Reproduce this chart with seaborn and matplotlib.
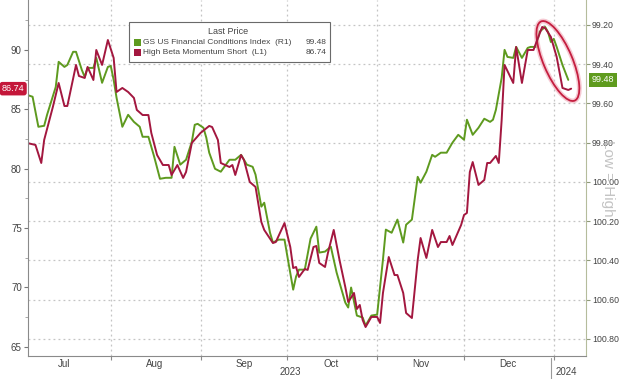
import matplotlib
matplotlib.use("Agg")
import matplotlib.pyplot as plt
import matplotlib.dates as mdates
import matplotlib.patches as mpatches
import matplotlib.transforms as mtransforms
from matplotlib.lines import Line2D
import seaborn as sns
import pandas as pd
import numpy as np

# ---------------- data ----------------
red_dates = [
    "2023-07-03", "2023-07-06", "2023-07-08", "2023-07-09", "2023-07-12", "2023-07-14", "2023-07-16", "2023-07-17",
    "2023-07-20", "2023-07-21", "2023-07-23", "2023-07-24", "2023-07-26", "2023-07-27", "2023-07-29", "2023-07-31",
    "2023-08-02", "2023-08-03", "2023-08-05", "2023-08-07", "2023-08-09", "2023-08-10", "2023-08-12", "2023-08-14",
    "2023-08-15", "2023-08-17", "2023-08-19", "2023-08-21", "2023-08-22", "2023-08-24", "2023-08-26", "2023-08-27",
    "2023-08-29", "2023-09-01", "2023-09-04", "2023-09-05", "2023-09-07", "2023-09-08", "2023-09-11", "2023-09-12",
    "2023-09-13", "2023-09-15", "2023-09-16", "2023-09-18", "2023-09-20", "2023-09-22", "2023-09-23", "2023-09-26",
    "2023-09-27", "2023-09-30", "2023-10-02", "2023-10-03", "2023-10-04", "2023-10-05", "2023-10-07", "2023-10-08",
    "2023-10-10", "2023-10-11", "2023-10-12", "2023-10-14", "2023-10-15", "2023-10-17", "2023-10-19", "2023-10-21",
    "2023-10-22", "2023-10-24", "2023-10-25", "2023-10-26", "2023-10-27", "2023-10-28", "2023-10-30", "2023-11-01",
    "2023-11-02", "2023-11-03", "2023-11-05", "2023-11-07", "2023-11-08", "2023-11-10", "2023-11-11", "2023-11-13",
    "2023-11-15", "2023-11-16", "2023-11-18", "2023-11-20", "2023-11-22", "2023-11-23", "2023-11-25", "2023-11-26",
    "2023-11-27", "2023-11-30", "2023-12-01", "2023-12-02", "2023-12-03", "2023-12-04", "2023-12-06", "2023-12-08",
    "2023-12-09", "2023-12-10", "2023-12-12", "2023-12-13", "2023-12-14", "2023-12-15", "2023-12-18", "2023-12-19",
    "2023-12-21", "2023-12-23", "2023-12-25", "2023-12-26", "2023-12-28", "2023-12-29", "2023-12-31", "2024-01-01",
    "2024-01-02", "2024-01-04", "2024-01-06", "2024-01-07",
]
red_values = [
    82.17, 82.00, 80.48, 82.42, 85.20, 87.22, 85.28, 85.28,
    88.74, 87.81, 87.64, 88.57, 87.47, 90.00, 88.74, 90.84,
    89.33, 86.46, 86.80, 86.46, 85.96, 84.95, 84.52, 84.52,
    83.01, 81.15, 80.31, 80.31, 79.47, 80.31, 79.22, 79.72,
    82.17, 83.01, 83.60, 83.51, 82.42, 80.48, 80.14, 80.31,
    79.47, 81.15, 80.73, 78.88, 78.46, 75.51, 74.84, 73.74,
    73.82, 75.42, 73.40, 71.63, 71.72, 70.88, 71.55, 71.47,
    73.40, 73.49, 72.06, 71.72, 72.90, 74.84, 72.31, 70.03,
    68.77, 69.53, 68.18, 68.52, 67.25, 66.66, 67.51, 67.51,
    67.00, 69.53, 72.56, 71.04, 71.04, 69.53, 67.84, 67.42,
    72.31, 74.16, 72.48, 74.84, 73.40, 73.82, 73.82, 74.33,
    73.57, 75.26, 76.10, 76.27, 79.72, 80.56, 78.63, 79.05,
    80.48, 80.48, 81.07, 80.48, 84.10, 88.74, 87.22, 90.25,
    87.22, 90.00, 90.00, 90.67, 91.94, 91.85, 91.10, 90.25,
    89.41, 86.80, 86.63, 86.74,
]

green_dates = [
    "2023-07-03", "2023-07-05", "2023-07-07", "2023-07-09", "2023-07-10", "2023-07-13", "2023-07-14", "2023-07-16",
    "2023-07-17", "2023-07-19", "2023-07-20", "2023-07-22", "2023-07-23", "2023-07-24", "2023-07-26", "2023-07-27",
    "2023-07-29", "2023-07-31", "2023-08-01", "2023-08-02", "2023-08-03", "2023-08-05", "2023-08-07", "2023-08-09",
    "2023-08-11", "2023-08-12", "2023-08-14", "2023-08-16", "2023-08-18", "2023-08-20", "2023-08-22", "2023-08-23",
    "2023-08-25", "2023-08-27", "2023-08-29", "2023-08-30", "2023-08-31", "2023-09-02", "2023-09-03", "2023-09-04",
    "2023-09-06", "2023-09-08", "2023-09-11", "2023-09-13", "2023-09-15", "2023-09-17", "2023-09-19", "2023-09-20",
    "2023-09-22", "2023-09-23", "2023-09-25", "2023-09-26", "2023-09-28", "2023-09-30", "2023-10-01", "2023-10-03",
    "2023-10-04", "2023-10-05", "2023-10-07", "2023-10-09", "2023-10-11", "2023-10-12", "2023-10-14", "2023-10-16",
    "2023-10-18", "2023-10-21", "2023-10-22", "2023-10-23", "2023-10-25", "2023-10-27", "2023-10-28", "2023-10-30",
    "2023-11-01", "2023-11-03", "2023-11-04", "2023-11-06", "2023-11-08", "2023-11-10", "2023-11-11", "2023-11-13",
    "2023-11-15", "2023-11-16", "2023-11-18", "2023-11-20", "2023-11-21", "2023-11-23", "2023-11-25", "2023-11-27",
    "2023-11-29", "2023-12-01", "2023-12-02", "2023-12-04", "2023-12-06", "2023-12-08", "2023-12-10", "2023-12-11",
    "2023-12-12", "2023-12-14", "2023-12-15", "2023-12-16", "2023-12-18", "2023-12-19", "2023-12-21", "2023-12-23",
    "2023-12-24", "2023-12-26", "2023-12-27", "2023-12-29", "2023-12-30", "2023-12-31", "2024-01-01", "2024-01-02",
    "2024-01-04", "2024-01-06",
]
green_values = [
    99.556, 99.566, 99.719, 99.714, 99.658, 99.516, 99.388, 99.414,
    99.404, 99.337, 99.337, 99.429, 99.465, 99.419, 99.419, 99.368,
    99.495, 99.414, 99.409, 99.480, 99.571, 99.719, 99.658, 99.694,
    99.719, 99.770, 99.770, 99.872, 99.984, 99.979, 99.979, 99.821,
    99.912, 99.887, 99.795, 99.709, 99.704, 99.724, 99.775, 99.851,
    99.933, 99.948, 99.887, 99.887, 99.862, 99.912, 99.923, 99.963,
    100.126, 100.106, 100.259, 100.309, 100.294, 100.294, 100.380, 100.549,
    100.482, 100.447, 100.447, 100.289, 100.228, 100.360, 100.355, 100.330,
    100.462, 100.615, 100.640, 100.538, 100.681, 100.691, 100.732, 100.681,
    100.676, 100.396, 100.243, 100.259, 100.192, 100.309, 100.218, 100.192,
    99.974, 100.004, 99.948, 99.862, 99.872, 99.851, 99.851, 99.800,
    99.760, 99.785, 99.683, 99.760, 99.724, 99.678, 99.694, 99.683,
    99.633, 99.470, 99.327, 99.363, 99.368, 99.312, 99.368, 99.317,
    99.312, 99.312, 99.236, 99.210, 99.236, 99.287, 99.271, 99.312,
    99.404, 99.480,
]

green_name = "GS US Financial Conditions Index  (R1)"
red_name = "High Beta Momentum Short  (L1)"
green_last = "99.48"
red_last = "86.74"
left_ticks = [65, 70, 75, 80, 85, 90]
right_ticks = [99.20, 99.40, 99.60, 99.80, 100.00, 100.20, 100.40, 100.60, 100.80]
right_tick_labels = ["99.20", "99.40", "99.60", "99.80", "100.00", "100.20", "100.40", "100.60", "100.80"]

# ---------------- style ----------------
sns.set_style("white")
plt.rcParams["font.family"] = ["Liberation Sans", "DejaVu Sans"]

GREEN = "#5e9a1f"
RED = "#a3173f"
GRID = "#c4c4c4"
TXT = "#444444"

red_df = pd.DataFrame({"date": pd.to_datetime(red_dates), "value": red_values})
green_df = pd.DataFrame({"date": pd.to_datetime(green_dates), "value": green_values})

fig = plt.figure(figsize=(6.2, 3.79), dpi=100)
ax = fig.add_axes([28 / 620, 1 - 356 / 379, (586 - 28) / 620, 356 / 379])
ax2 = ax.twinx()

sns.lineplot(data=green_df, x="date", y="value", ax=ax2, color=GREEN, lw=1.4, estimator=None)
sns.lineplot(data=red_df, x="date", y="value", ax=ax, color=RED, lw=1.4, estimator=None)

ax.set_zorder(ax2.get_zorder() + 1)
ax.patch.set_visible(False)

x0 = pd.Timestamp("2023-07-03 10:00")
x1 = pd.Timestamp("2024-01-12 03:00")
ax.set_xlim(x0, x1)
ax.set_ylim(64.22, 94.21)
ax2.set_ylim(100.887, 99.073)

for a in (ax, ax2):
    a.set_xlabel("")
    a.set_ylabel("")
    a.spines["top"].set_visible(False)

# left axis
ax.set_yticks(left_ticks)
ax.set_yticks(np.arange(67.5, 93, 5), minor=True)
ax.tick_params(axis="y", which="major", length=3, width=0.8, color="#777777", labelsize=7,
               labelcolor=TXT, pad=1.5, left=True)
ax.tick_params(axis="y", which="minor", length=2, width=0.6, color="#999999", left=True)
ax.spines["left"].set_color("#8a8a8a")
ax.spines["bottom"].set_color("#8a8a8a")
ax.spines["right"].set_visible(False)

# right axis
ax2.set_yticks(right_ticks)
ax2.set_yticklabels(right_tick_labels)
ax2.tick_params(axis="y", which="major", length=3, width=0.8, color="#8f9a7a", labelsize=6.3,
                labelcolor=TXT, pad=1.2, right=True)
ax2.spines["right"].set_color("#b5bc9c")
ax2.spines["left"].set_visible(False)
ax2.spines["bottom"].set_visible(False)
ax2.grid(axis="y", color=GRID, linestyle=(0, (1.5, 2.5)), lw=0.9)
ax2.set_axisbelow(True)

# month boundaries (vertical dotted grid)
for m in pd.date_range("2023-08-01", "2024-01-01", freq="MS"):
    ax2.axvline(m, color=GRID, linestyle=(0, (1.5, 2.5)), lw=0.9, zorder=0)

# x axis ticks
ax.xaxis.set_major_locator(mdates.MonthLocator())
ax.xaxis.set_major_formatter(plt.NullFormatter())
ax.xaxis.set_minor_locator(mdates.MonthLocator(bymonthday=16))
ax.xaxis.set_minor_formatter(mdates.DateFormatter("%b"))
ax.tick_params(axis="x", which="major", length=3, width=0.8, color="#8a8a8a", bottom=True)
ax.tick_params(axis="x", which="minor", length=0, labelsize=7, labelcolor=TXT, pad=2)

# years
fig.text(290 / 620, 1 - 372 / 379, "2023", fontsize=7, color=TXT, ha="center", va="center")
fig.text(566 / 620, 1 - 372 / 379, "2024", fontsize=7, color=TXT, ha="center", va="center")
fig.add_artist(Line2D([551 / 620, 551 / 620], [0, 21 / 379], transform=fig.transFigure,
                      color="#9a9a9a", lw=0.8))

# last value tags
tl = mtransforms.blended_transform_factory(fig.transFigure, ax.transData)
ax.text(0.003, float(red_last), red_last, transform=tl, ha="left", va="center", fontsize=6.5,
        color="white", clip_on=False, zorder=10,
        bbox=dict(boxstyle="round,pad=0.25,rounding_size=0.3", fc="#c4173a", ec="none"))
tr = mtransforms.blended_transform_factory(fig.transFigure, ax2.transData)
ax2.text(592 / 620, float(green_last), green_last, transform=tr, ha="left", va="center", fontsize=6.5,
         color="white", clip_on=False, zorder=10,
         bbox=dict(boxstyle="square,pad=0.3", fc="#5f9b1e", ec="none"))

# "Low = High" note
fig.text(608 / 620, 1 - 178 / 379, "Low = High", rotation=-90, color="#bdbdbd", fontsize=11,
         ha="center", va="center", alpha=0.9)

# legend box
fig.add_artist(mpatches.Rectangle((129 / 620, 1 - 62 / 379), (330 - 129) / 620, 40 / 379,
                                  transform=fig.transFigure, fc="white", ec="#6a6a6a", lw=0.8))
fig.text(228 / 620, 1 - 32 / 379, "Last Price", fontsize=6.5, color=TXT, ha="center", va="center")
for i, (name, val, col) in enumerate([(green_name, green_last, GREEN), (red_name, red_last, RED)]):
    yy = 1 - (42.5 + 10 * i) / 379
    fig.add_artist(mpatches.Rectangle((134 / 620, yy - 3.5 / 379), 7 / 620, 7 / 379,
                                      transform=fig.transFigure, fc=col, ec="none"))
    fig.text(143 / 620, yy, name, fontsize=6, color=TXT, ha="left", va="center")
    fig.text(326 / 620, yy, val, fontsize=6, color=TXT, ha="right", va="center")

# highlight ellipse around the latest move
ex = mdates.date2num(pd.Timestamp("2024-01-02 10:00"))
ey = 89.07
etr = fig.dpi_scale_trans + mtransforms.ScaledTranslation(ex, ey, ax.transData)
fig.add_artist(mpatches.Ellipse((0, 0), 0.86, 0.29, angle=113, transform=etr, fill=False,
                                ec="#f2b3c0", lw=3.5, alpha=0.7))
fig.add_artist(mpatches.Ellipse((0, 0), 0.86, 0.29, angle=113, transform=etr, fill=False,
                                ec="#c41e3f", lw=1.3))

fig.savefig("out.png", dpi=100)
